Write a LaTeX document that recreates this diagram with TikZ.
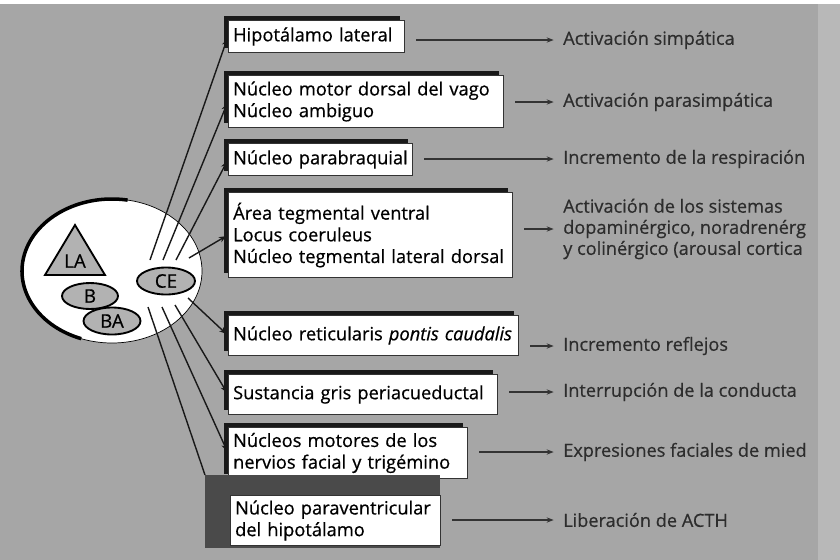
\documentclass[tikz,border=0pt]{standalone}
\usepackage{fontspec}
\setmainfont{Open Sans}
\newfontfamily\boxfont{Open Sans}[FakeBold=0.6]
\usetikzlibrary{arrows.meta,shadows,shapes.geometric,calc}
\definecolor{bg}{RGB}{166,166,166}
\definecolor{bgl}{RGB}{184,184,184}
\definecolor{nucfill}{RGB}{178,178,178}
\definecolor{efftext}{RGB}{45,45,45}
\definecolor{darkbar}{RGB}{74,74,74}
\begin{document}
\begin{tikzpicture}[x=0.3mm,y=-0.3mm,
  box/.style={draw=black!80, line width=0.8pt, fill=white, anchor=north west,
    inner xsep=4pt, inner ysep=2pt, align=left,
    font=\boxfont\fontsize{15.6}{18.5}\selectfont,
    general shadow={fill=black!90, shadow xshift=-3.5pt, shadow yshift=3.5pt}},
  plainbox/.style={draw=black!80, line width=0.8pt, fill=white, anchor=north west,
    inner xsep=4pt, inner ysep=2pt, align=left,
    font=\boxfont\fontsize{15.6}{18.5}\selectfont},
  eff/.style={anchor=west, inner sep=0pt, align=left, text=efftext,
    font=\boxfont\fontsize{15.5}{18}\selectfont},
  link/.style={draw=black!90, line width=1.2pt, shorten >=2pt,
    -{Stealth[length=6pt,width=5pt]}},
  outarrow/.style={draw=black!80, line width=1pt, shorten <=3.4mm, shorten >=2.8mm,
    -{Stealth[length=6pt,width=4.5pt]}},
  nuc/.style={ellipse, draw=black, line width=1.6pt, fill=nucfill, inner sep=0pt,
    font=\boxfont\fontsize{16}{16}\selectfont}
]
% background
\useasboundingbox (0,0) rectangle (840,560);
\fill[bg] (0,0) rectangle (840,560);
\fill[bgl] (818,4) rectangle (840,560);
\fill[white] (0,0) rectangle (840,4);

% amygdala
\node[ellipse, draw=black, line width=0.6pt, fill=white, minimum width=54mm, minimum height=43.2mm] (amig) at (112,271) {};
\draw[line width=3pt] ($(amig.center)+(80:27mm and 21.6mm)$) arc[start angle=80, end angle=250, x radius=27mm, y radius=21.6mm];
\draw[draw=black, line width=1.6pt, fill=nucfill] (75,225) -- (45,275) -- (105,275) -- cycle;
\node[font=\boxfont\fontsize{16}{16}\selectfont, inner sep=0pt] (LA) at (75,261) {LA};
\node[nuc, minimum width=16.8mm, minimum height=7.8mm] (B) at (90,296) {B};
\node[nuc, minimum width=17.1mm, minimum height=8.1mm] (BA) at (112,321) {BA};
\node[nuc, minimum width=17.4mm, minimum height=8.1mm] (CE) at (166,281) {CE};

% starting points of the fan
\coordinate (s1) at (150,260);
\coordinate (s2) at (163,260);
\coordinate (s3) at (176,260);
\coordinate (s4) at (189,258);
\coordinate (s5) at (188,298);
\coordinate (s6) at (175,305);
\coordinate (s7) at (162,307);
\coordinate (s8) at (148,307);

% target boxes
\node[box, text width=50mm, minimum height=9.6mm] (b1) at (228,20) {\mbox{Hipotálamo lateral}};
\node[box, text width=79.7mm, minimum height=15.6mm] (b2) at (228,75) {\mbox{Núcleo motor dorsal del vago}\\\mbox{Núcleo ambiguo}};
\node[box, text width=52.4mm, minimum height=9.6mm] (b3) at (228,143) {\mbox{Núcleo parabraquial}};
\node[box, text width=82.4mm, minimum height=25.5mm] (b4) at (228,192) {\mbox{Área tegmental ventral}\\\mbox{Locus coeruleus}\\\mbox{Núcleo tegmental lateral dorsal}};
\node[box, text width=84.2mm, minimum height=12mm] (b5) at (228,315) {\mbox{Núcleo reticularis \textit{pontis caudalis}}};
\node[box, text width=77.9mm, minimum height=12mm] (b6) at (228,374) {\mbox{Sustancia gris periacueductal}};
\node[box, text width=68.9mm, minimum height=15.3mm] (b7) at (228,427) {\mbox{Núcleos motores de los}\\\mbox{nervios facial y trigémino}};
\node[fill=darkbar, anchor=north west, minimum width=70.5mm, minimum height=21.9mm, inner sep=0pt] (b8s) at (205,475) {};
\node[plainbox, text width=60.2mm, minimum height=15mm] (b8) at (230,495) {\mbox{Núcleo paraventricular}\\\mbox{del hipotálamo}};

% fan connectors
\draw[link] (s1) -- (b1.west);
\draw[link] (s2) -- (b2.west);
\draw[link] (s3) -- (b3.west);
\draw[link] (s4) -- (b4.west);
\draw[link] (s5) -- (b5.west);
\draw[link] (s6) -- (b6.west);
\draw[link] (s7) -- (b7.west);
\draw[draw=black!90, line width=1.2pt] (s8) -- (b8s.north west);

% effects
\node[eff] (e1) at (563,40) {Activación simpática};
\node[eff] (e2) at (563,102) {Activación parasimpática};
\node[eff] (e3) at (563,159) {Incremento de la respiración};
\node[eff] (e4) at (563,229) {Activación de los sistemas\\dopaminérgico, noradrenérg\\y colinérgico (arousal cortica};
\node[eff] (e5) at (563,346) {Incremento reflejos};
\node[eff] (e6) at (563,392) {Interrupción de la conducta};
\node[eff] (e7) at (563,452) {Expresiones faciales de mied};
\node[eff] (e8) at (563,520) {Liberación de ACTH};

\foreach \i in {1,...,8}{
  \draw[outarrow] (b\i.east |- e\i.west) -- (e\i.west);
}
\end{tikzpicture}
\end{document}
